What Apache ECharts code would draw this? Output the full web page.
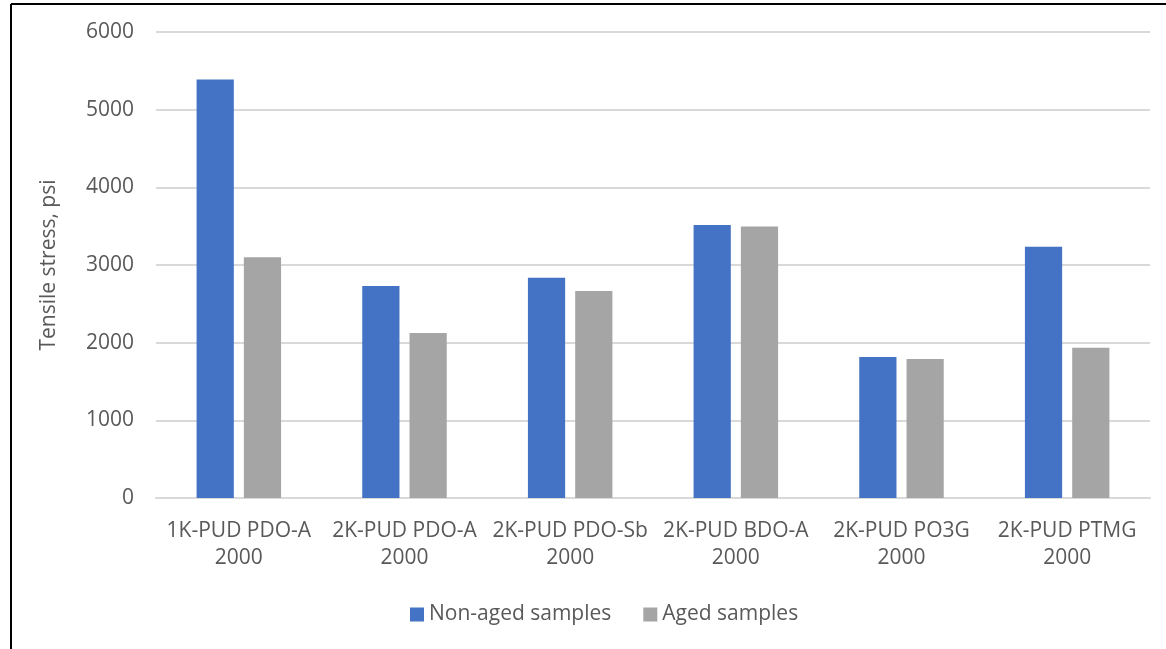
<!DOCTYPE html>
<html>
<head>
<meta charset="utf-8">
<script src="https://cdn.jsdelivr.net/npm/echarts@6/dist/echarts.min.js"></script>
<style>
  html, body { margin: 0; padding: 0; background: #fff; }
  #chart { width: 1166px; height: 649px; }
</style>
</head>
<body>
<div id="chart"></div>
<script>
// category labels (two lines like the original)
const categories = [
  '1K-PUD PDO-A\n2000',
  '2K-PUD PDO-A\n2000',
  '2K-PUD PDO-Sb\n2000',
  '2K-PUD BDO-A\n2000',
  '2K-PUD PO3G\n2000',
  '2K-PUD PTMG\n2000'
]
const nonAged = [5390, 2730, 2835, 3515, 1815, 3235]
const aged = [3100, 2125, 2665, 3495, 1790, 1935]

const font = '"Open Sans", "Noto Sans", sans-serif'
const textColor = '#595959'

const chart = echarts.init(document.getElementById('chart'))
chart.setOption({
  animation: false,
  textStyle: { fontFamily: font },
  grid: { left: 156, right: 16, top: 32, bottom: 151 },
  legend: {
    bottom: 19,
    left: 405,
    itemWidth: 14,
    itemHeight: 14,
    itemGap: 32,
    icon: 'rect',
    textStyle: { fontSize: 21, color: textColor, fontFamily: font },
    data: ['Non-aged samples', 'Aged samples']
  },
  xAxis: {
    type: 'category',
    data: categories,
    axisTick: { show: false },
    axisLine: { lineStyle: { color: '#d9d9d9', width: 2 } },
    axisLabel: {
      color: textColor, fontSize: 21, lineHeight: 27, margin: 20,
      interval: 0, fontFamily: font
    }
  },
  yAxis: {
    type: 'value',
    min: 0,
    max: 6000,
    interval: 1000,
    name: 'Tensile stress, psi',
    nameLocation: 'middle',
    nameGap: 96,
    nameTextStyle: { fontSize: 21, color: textColor, fontFamily: font },
    axisLine: { show: false },
    axisTick: { show: false },
    axisLabel: {
      color: textColor, fontSize: 21, margin: 22, fontFamily: font,
      formatter: (v) => String(v)
    },
    splitLine: { lineStyle: { color: '#d9d9d9', width: 2 } }
  },
  series: [
    {
      name: 'Non-aged samples',
      type: 'bar',
      data: nonAged,
      barGap: '27%',
      barCategoryGap: '49%',
      itemStyle: { color: '#4472c4' }
    },
    {
      name: 'Aged samples',
      type: 'bar',
      data: aged,
      itemStyle: { color: '#a5a5a5' }
    }
  ],
  graphic: [
    { type: 'line', shape: { x1: 11, y1: 4, x2: 1166, y2: 4 }, style: { stroke: '#000', lineWidth: 2 } },
    { type: 'line', shape: { x1: 11, y1: 4, x2: 11, y2: 649 }, style: { stroke: '#000', lineWidth: 2 } }
  ]
})
</script>
</body>
</html>
